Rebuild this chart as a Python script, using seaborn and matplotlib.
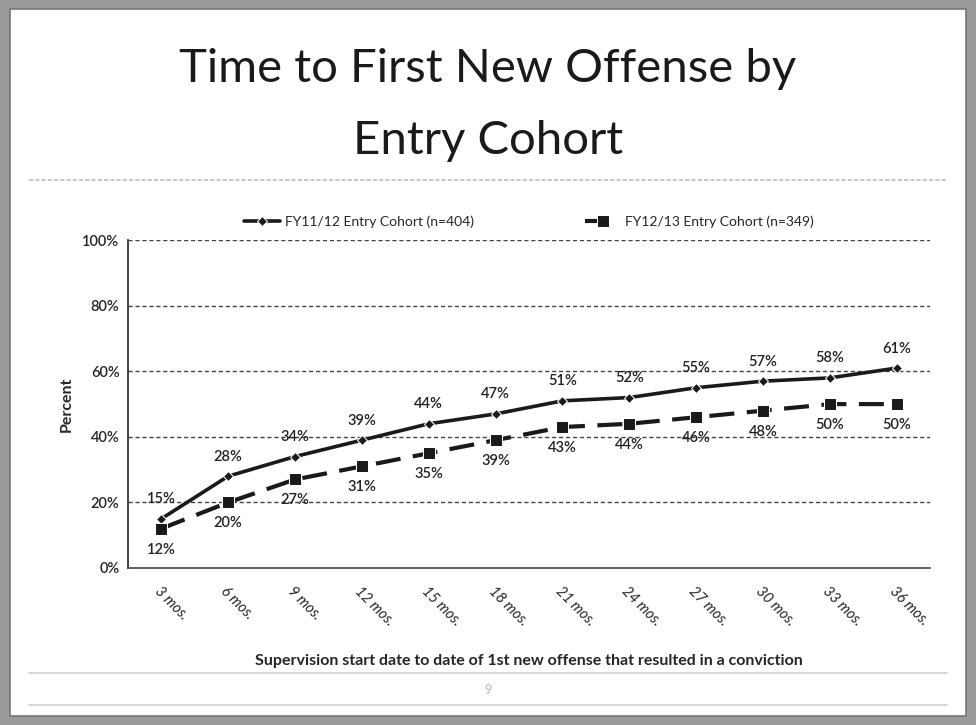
import matplotlib
matplotlib.use("Agg")
import matplotlib.pyplot as plt
import seaborn as sns
import pandas as pd
from matplotlib.patches import Rectangle
from matplotlib.lines import Line2D

# Data
months = ['3 mos.', '6 mos.', '9 mos.', '12 mos.', '15 mos.', '18 mos.',
          '21 mos.', '24 mos.', '27 mos.', '30 mos.', '33 mos.', '36 mos.']
fy1112 = [15, 28, 34, 39, 44, 47, 51, 52, 55, 57, 58, 61]
fy1213 = [12, 20, 27, 31, 35, 39, 43, 44, 46, 48, 50, 50]
label_1112 = 'FY11/12 Entry Cohort (n=404)'
label_1213 = 'FY12/13 Entry Cohort (n=349)'

sns.set_style('white')
plt.rcParams['font.family'] = ['Lato', 'DejaVu Sans']

fig = plt.figure(figsize=(9.76, 7.25), dpi=100)
fig.patch.set_facecolor('#9a9a9a')
# white slide inside the scanned grey border
fig.patches.append(Rectangle((0.010, 0.013), 0.980, 0.974, transform=fig.transFigure,
                             facecolor='white', edgecolor='#777777', lw=1.2, zorder=-10))

# Title
fig.text(0.5, 0.905, 'Time to First New Offense by', ha='center', va='center',
         fontsize=34, color='#1a1a1a')
fig.text(0.5, 0.806, 'Entry Cohort', ha='center', va='center',
         fontsize=34, color='#1a1a1a')
fig.add_artist(Line2D([0.03, 0.97], [0.752, 0.752], transform=fig.transFigure,
                      color='#c8c8c8', lw=1.5, ls=(0, (2, 1))))

# Footer lines and page number
fig.add_artist(Line2D([0.03, 0.97], [0.072, 0.072], transform=fig.transFigure,
                      color='#cfcfcf', lw=1.2))
fig.add_artist(Line2D([0.03, 0.97], [0.027, 0.027], transform=fig.transFigure,
                      color='#cfcfcf', lw=1.2))
fig.text(0.5, 0.048, '9', ha='center', va='center', fontsize=9, color='#bbbbbb')

ax = fig.add_axes([0.131, 0.2166, 0.822, 0.452])
ax.set_zorder(5)
ax.patch.set_alpha(0)

df1 = pd.DataFrame({'month': months, 'pct': fy1112})
df2 = pd.DataFrame({'month': months, 'pct': fy1213})

sns.lineplot(data=df1, x='month', y='pct', ax=ax, color='#1a1a1a', lw=2.6,
             marker='D', markersize=5, sort=False, label=label_1112)
sns.lineplot(data=df2, x='month', y='pct', ax=ax, color='#1a1a1a', lw=3.0,
             marker='s', markersize=8, sort=False, label=label_1213,
             dashes=False, linestyle=(0, (6, 3)))

# Data labels
for i, v in enumerate(fy1112):
    ax.annotate(f'{v}%', (i, v), textcoords='offset points', xytext=(0, 9),
                ha='center', va='bottom', fontsize=10.5, color='#222222',
                fontweight='semibold')
for i, v in enumerate(fy1213):
    ax.annotate(f'{v}%', (i, v), textcoords='offset points', xytext=(0, -10),
                ha='center', va='top', fontsize=10.5, color='#222222',
                fontweight='semibold')

ax.set_xlim(-0.5, len(months) - 0.5)
ax.set_ylim(0, 100)
ax.set_yticks([0, 20, 40, 60, 80, 100])
ax.set_yticklabels([f'{t}%' for t in [0, 20, 40, 60, 80, 100]], fontsize=10.5,
                   fontweight='semibold')
for t in [20, 40, 60, 80, 100]:
    ax.axhline(t, color='#444444', lw=1.0, ls=(0, (3, 2)), zorder=0)

ax.set_xticks(range(len(months)))
ax.set_xticklabels(months, rotation=-45, ha='left', rotation_mode='anchor',
                   fontsize=10.5, style='italic')
ax.tick_params(axis='x', pad=12, length=0)
ax.tick_params(axis='y', length=0, pad=6)

for s in ['top', 'right']:
    ax.spines[s].set_visible(False)
ax.spines['left'].set_color('#333333')
ax.spines['bottom'].set_color('#555555')
ax.spines['left'].set_linewidth(1.3)
ax.spines['bottom'].set_linewidth(1.3)

ax.set_ylabel('Percent', fontsize=11.5, fontweight='bold', labelpad=6)
ax.set_xlabel('Supervision start date to date of 1st new offense that resulted in a conviction',
              fontsize=11.5, fontweight='bold', labelpad=18)

handles, labels = ax.get_legend_handles_labels()
ax.legend(handles, labels, loc='lower center', bbox_to_anchor=(0.5, 1.0), ncol=2,
          frameon=False, fontsize=10, columnspacing=8, handlelength=2.6,
          handletextpad=0.3)

fig.savefig('out.png', dpi=100, facecolor=fig.get_facecolor())
